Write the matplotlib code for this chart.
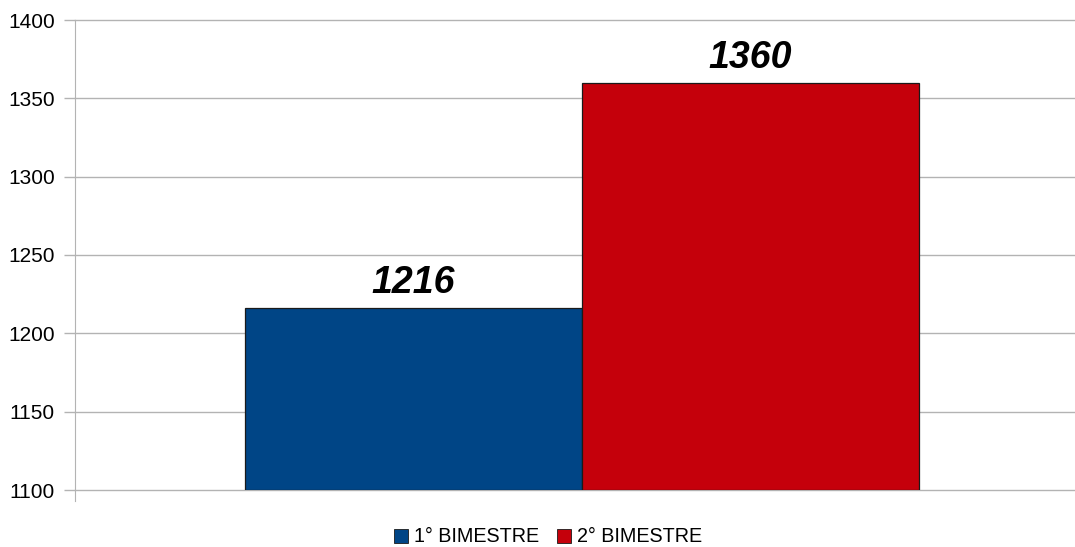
import matplotlib
matplotlib.use("Agg")
import matplotlib.pyplot as plt
from matplotlib.patches import Patch

# data
series = ["1° BIMESTRE", "2° BIMESTRE"]
values = [1216, 1360]
colors = ["#004586", "#c5000b"]
yticks = [1100, 1150, 1200, 1250, 1300, 1350, 1400]

plt.rcParams['font.family'] = ['Liberation Sans', 'DejaVu Sans']

fig = plt.figure(figsize=(10.75, 5.47), dpi=100)
W, H = 1075, 547
# axes spans past the right edge like the original
ax = fig.add_axes([75 / W, (H - 490) / H, 1014 / W, 470 / H])

grid_c = "#b3b3b3"
bw = 0.3325
xs = [-bw / 2, bw / 2]
for x, v, c in zip(xs, values, colors):
    ax.bar(x, v - 1100, bottom=1100, width=bw, color=c, edgecolor="#1a1a1a", linewidth=0.9, zorder=3)
    ax.text(x, v + 4.5, str(v), ha="center", va="bottom", fontsize=27,
            fontweight="bold", fontstyle="italic", zorder=4)

ax.set_xlim(-0.5, 0.5)
ax.set_ylim(1100, 1400)
ax.set_yticks(yticks)
ax.set_xticks([])
ax.grid(axis="y", color=grid_c, linewidth=1)
for gl in ax.yaxis.get_gridlines():
    gl.set_clip_on(False)
ax.set_axisbelow(True)
for s in ["top", "right", "bottom"]:
    ax.spines[s].set_visible(False)
ax.spines["left"].set_color(grid_c)
ax.spines["left"].set_bounds(1093, 1400)
ax.tick_params(axis="y", length=8, width=1, color=grid_c, pad=6.5, labelsize=15)

handles = [Patch(facecolor=c, edgecolor="#1a1a1a", linewidth=0.6) for c in colors]
fig.legend(handles, series, loc="center", bbox_to_anchor=(548 / W, 1 - 537 / H),
           ncol=2, frameon=False, fontsize=14.2, handlelength=0.7, handleheight=0.7,
           handletextpad=0.3, columnspacing=0.9)

fig.savefig("out.png", dpi=100)
